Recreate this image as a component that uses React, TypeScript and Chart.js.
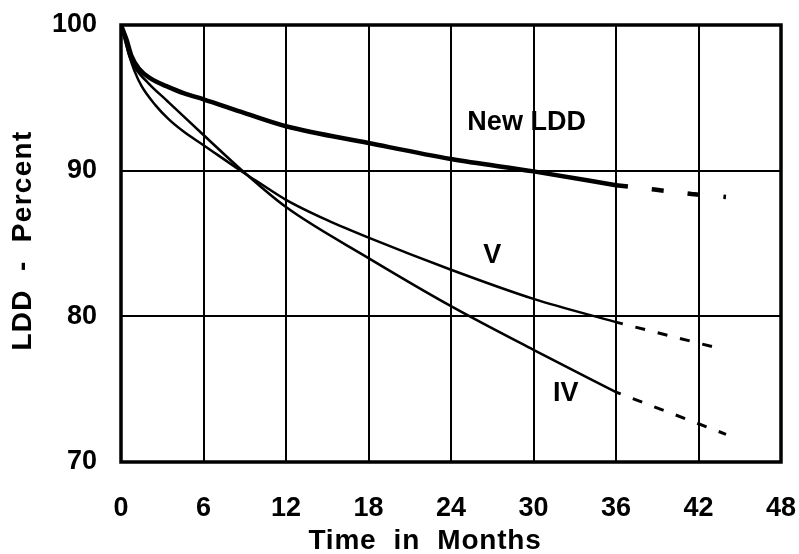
import React, { useEffect, useRef } from "react";
import { Chart, registerables } from "chart.js";

Chart.register(...registerables);

// ---- data (months, LDD percent) ----
const newLddMonths = [0, 0.4, 0.75, 1.3, 2.2, 3.3, 4.6, 6, 9, 12, 18, 24, 30, 36];
const newLddValues = [100, 99.0, 97.9, 97.0, 96.3, 95.8, 95.3, 94.9, 93.95, 93.05, 91.9, 90.8, 89.95, 89.0];
const newLddExtMonths = [36, 38.8, 41.5, 44];
const newLddExtValues = [89.0, 88.7, 88.4, 88.2];

const vMonths = [0, 0.3, 0.6, 1.0, 1.5, 2.5, 3.5, 4.6, 6, 8.7, 10, 12, 15, 18, 24, 30, 36];
const vValues = [100, 98.9, 97.9, 96.8, 95.8, 94.5, 93.5, 92.65, 91.75, 90.0, 89.2, 88.0, 86.6, 85.4, 83.2, 81.2, 79.6];
const vExtMonths = [36, 43.5];
const vExtValues = [79.6, 77.8];

const ivMonths = [0, 0.3, 0.6, 1.0, 2.0, 3.4, 4.75, 6, 8.7, 12, 18, 24, 30, 36];
const ivValues = [100, 99.0, 97.9, 97.1, 96.0, 94.75, 93.55, 92.45, 90.1, 87.5, 84.0, 80.7, 77.7, 74.8];
const ivExtMonths = [36, 44];
const ivExtValues = [74.8, 71.9];

const xTicks = [0, 6, 12, 18, 24, 30, 36, 42, 48];
const yTicks = [70, 80, 90, 100];

const curveLabels = ["New LDD", "V", "IV"];
const curveLabelMonths = [29.5, 27.0, 32.35];
const curveLabelValues = [93.3, 84.2, 74.7];

const xTitle = "Time  in  Months";
const yTitle = "LDD  -  Percent";

const FONT = "'Liberation Sans', Arial, sans-serif";

const zip = (xs: number[], ys: number[]) => xs.map((x, i) => ({ x, y: ys[i] }));

const labelsPlugin = {
  id: "curveLabels",
  afterDatasetsDraw(chart: any) {
    const { ctx, scales } = chart;
    ctx.save();
    ctx.fillStyle = "#000";
    ctx.font = `bold 27px ${FONT}`;
    ctx.textAlign = "center";
    ctx.textBaseline = "middle";
    curveLabels.forEach((t, i) => {
      ctx.fillText(t, scales.x.getPixelForValue(curveLabelMonths[i]), scales.y.getPixelForValue(curveLabelValues[i]));
    });
    ctx.restore();
  },
};

const titlesPlugin = {
  id: "axisTitles",
  afterDraw(chart: any) {
    const { ctx, chartArea: a } = chart;
    ctx.save();
    ctx.fillStyle = "#000";
    ctx.textAlign = "center";
    ctx.textBaseline = "middle";
    ctx.font = `bold 28px ${FONT}`;
    (ctx as any).letterSpacing = "0.8px";
    ctx.fillText(xTitle, a.left + 304, a.bottom + 79);
    (ctx as any).letterSpacing = "1.3px";
    ctx.translate(23, (a.top + a.bottom) / 2 - 3);
    ctx.rotate(-Math.PI / 2);
    ctx.fillText(yTitle, 0, 0);
    ctx.restore();
  },
};

const framePlugin = {
  id: "frame",
  afterDraw(chart: any) {
    const { ctx, chartArea: a } = chart;
    ctx.save();
    ctx.strokeStyle = "#000";
    ctx.lineWidth = 3.5;
    ctx.strokeRect(a.left, a.top, a.right - a.left, a.bottom - a.top);
    ctx.restore();
  },
};

export default function App() {
  const ref = useRef<HTMLCanvasElement | null>(null);
  useEffect(() => {
    document.body.style.margin = "0";
    const canvas = ref.current!;
    const solid = (xs: number[], ys: number[], w: number) => ({
      data: zip(xs, ys),
      borderColor: "#000",
      borderWidth: w,
      pointRadius: 0,
      fill: false,
      cubicInterpolationMode: "monotone" as const,
    });
    const dashed = (xs: number[], ys: number[], w: number, dash: number[], offset: number) => ({
      data: zip(xs, ys),
      borderColor: "#000",
      borderWidth: w,
      borderDash: dash,
      borderDashOffset: offset,
      pointRadius: 0,
      fill: false,
      tension: 0,
    });
    const chart = new Chart(canvas, {
      type: "line",
      data: {
        datasets: [
          solid(newLddMonths, newLddValues, 4.5),
          dashed(newLddExtMonths, newLddExtValues, 4.5, [12, 24], 0),
          solid(vMonths, vValues, 2.5),
          dashed(vExtMonths, vExtValues, 3, [10, 13], 3),
          solid(ivMonths, ivValues, 2.5),
          dashed(ivExtMonths, ivExtValues, 3, [10, 13], 5),
        ] as any,
      },
      options: {
        responsive: false,
        animation: false,
        layout: { padding: { top: 25, right: 18, left: 0, bottom: 0 } },
        plugins: { legend: { display: false }, tooltip: { enabled: false } },
        scales: {
          x: {
            type: "linear",
            min: 0,
            max: 48,
            afterBuildTicks: (s: any) => {
              s.ticks = xTicks.map((v) => ({ value: v }));
            },
            afterFit: (s: any) => {
              s.height = 92;
              s.paddingLeft = 0;
              s.paddingRight = 0;
            },
            grid: { color: "#000", lineWidth: 2, drawTicks: false },
            border: { display: false },
            ticks: { color: "#000", font: { family: FONT, size: 27, weight: "bold" }, padding: 30, maxRotation: 0 },
          },
          y: {
            type: "linear",
            min: 70,
            max: 100,
            afterBuildTicks: (s: any) => {
              s.ticks = yTicks.map((v) => ({ value: v }));
            },
            afterFit: (s: any) => {
              s.width = 121;
              s.paddingTop = 0;
              s.paddingBottom = 0;
            },
            grid: { color: "#000", lineWidth: 2, drawTicks: false },
            border: { display: false },
            ticks: { color: "#000", font: { family: FONT, size: 27, weight: "bold" }, padding: 24 },
          },
        },
      },
      plugins: [labelsPlugin, framePlugin, titlesPlugin],
    });
    return () => chart.destroy();
  }, []);
  return (
    <div style={{ width: 799, height: 554, background: "#fff" }}>
      <canvas ref={ref} width={799} height={554} />
    </div>
  );
}
